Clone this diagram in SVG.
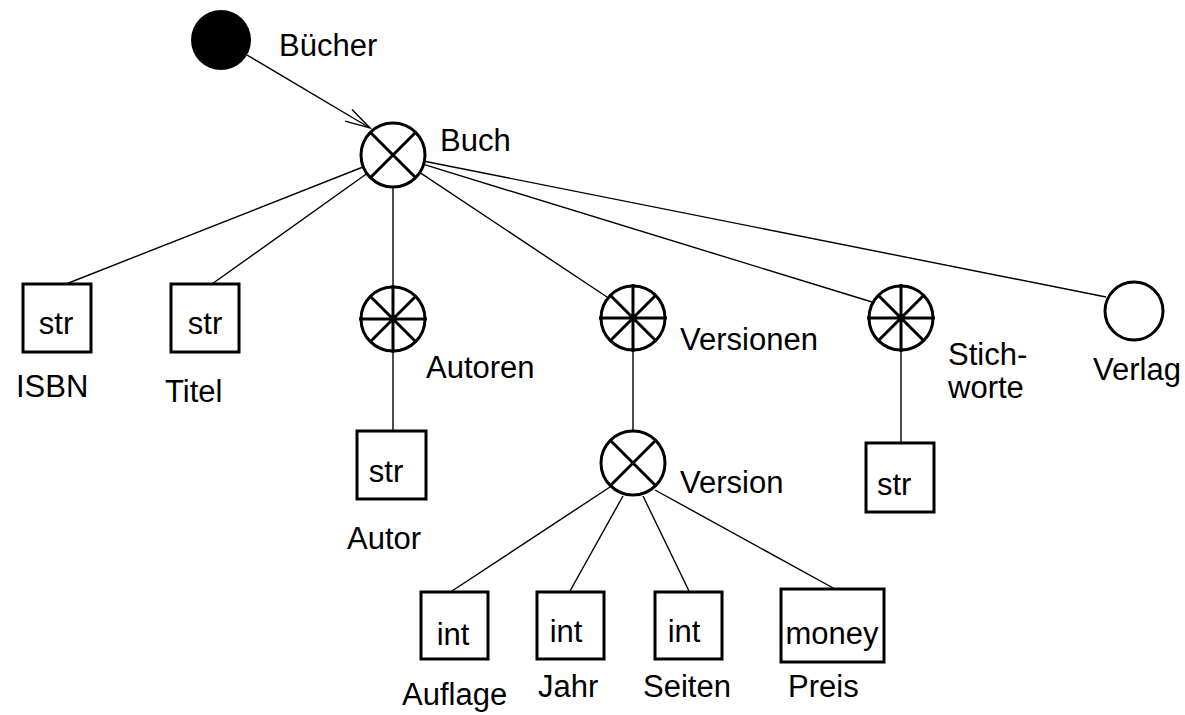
<svg xmlns="http://www.w3.org/2000/svg" width="1185" height="715" viewBox="0 0 1185 715">
<style>
text{font-family:"Liberation Sans",Arial,sans-serif;font-size:31px;fill:#000}
.c{text-anchor:middle}
.node{fill:#fff;stroke:#000;stroke-width:3}
.sp{stroke:#000;stroke-width:3;fill:none}
.con{stroke:#000;stroke-width:1.4;fill:none}
</style>
<defs>
<marker id="arr" markerUnits="userSpaceOnUse" markerWidth="30" markerHeight="20" viewBox="-27 -10 30 20" refX="0" refY="0" orient="auto">
<path d="M-25,-6.8 L0,0 L-25,6.8" fill="none" stroke="#000" stroke-width="1.4"/>
</marker>
</defs>
<rect width="1185" height="715" fill="#fff"/>
<g id="connectors">
<line class="con" x1="247" y1="55" x2="370" y2="128" marker-end="url(#arr)"/>
<line class="con" x1="363" y1="167" x2="66" y2="284"/>
<line class="con" x1="367" y1="173.5" x2="212" y2="284"/>
<line class="con" x1="393" y1="187" x2="393" y2="286"/>
<line class="con" x1="393" y1="351" x2="393" y2="431"/>
<line class="con" x1="420" y1="172.7" x2="607" y2="297"/>
<line class="con" x1="423.6" y1="164.4" x2="872" y2="302"/>
<line class="con" x1="424.4" y1="161.2" x2="1106" y2="297"/>
<line class="con" x1="633" y1="350" x2="633" y2="431"/>
<line class="con" x1="901" y1="350" x2="901" y2="443"/>
<line class="con" x1="610" y1="487" x2="452" y2="591"/>
<line class="con" x1="623" y1="496" x2="570" y2="591"/>
<line class="con" x1="643" y1="496" x2="689" y2="591"/>
<line class="con" x1="655" y1="490" x2="835" y2="589"/>
</g>
<g id="buecher">
<circle cx="221" cy="40" r="30" fill="#000"/>
<text x="279" y="56">Bücher</text>
</g>
<g id="buch">
<circle class="node" cx="393" cy="155" r="32"/>
<path class="sp" d="M370,132 L416,178 M416,132 L370,178"/>
<text x="440" y="151">Buch</text>
</g>
<g id="isbn">
<rect class="node" x="23" y="284" width="68" height="68"/>
<text class="c" x="56" y="334">str</text>
<text x="16" y="397">ISBN</text>
</g>
<g id="titel">
<rect class="node" x="171" y="284" width="68" height="68"/>
<text class="c" x="205" y="334">str</text>
<text x="165" y="402">Titel</text>
</g>
<g id="autoren">
<circle class="node" cx="393" cy="319" r="32"/>
<path class="sp" d="M359,319 L427,319 M393,285 L393,353 M370,296 L416,342 M416,296 L370,342"/>
<text x="426" y="378">Autoren</text>
</g>
<g id="autor">
<rect class="node" x="357" y="431" width="69" height="68"/>
<text class="c" x="386" y="482">str</text>
<text x="347" y="549">Autor</text>
</g>
<g id="versionen">
<circle class="node" cx="633" cy="318" r="32"/>
<path class="sp" d="M599,318 L667,318 M633,284 L633,352 M610,295 L656,341 M656,295 L610,341"/>
<text x="680" y="350">Versionen</text>
</g>
<g id="version">
<circle class="node" cx="633" cy="463" r="32"/>
<path class="sp" d="M610,440 L656,486 M656,440 L610,486"/>
<text x="680" y="493">Version</text>
</g>
<g id="auflage">
<rect class="node" x="421" y="592" width="67" height="67"/>
<text class="c" x="453" y="645">int</text>
<text x="402" y="705">Auflage</text>
</g>
<g id="jahr">
<rect class="node" x="537" y="592" width="67" height="67"/>
<text class="c" x="566" y="642">int</text>
<text x="538" y="697">Jahr</text>
</g>
<g id="seiten">
<rect class="node" x="655" y="592" width="67" height="67"/>
<text class="c" x="684" y="642">int</text>
<text x="643" y="697">Seiten</text>
</g>
<g id="preis">
<rect class="node" x="781" y="589" width="103" height="73"/>
<text class="c" x="832" y="644">money</text>
<text x="788" y="697">Preis</text>
</g>
<g id="stichworte">
<circle class="node" cx="901" cy="318" r="32"/>
<path class="sp" d="M867,318 L935,318 M901,284 L901,352 M878,295 L924,341 M924,295 L878,341"/>
<text x="948" y="365">Stich-</text>
<text x="948" y="398">worte</text>
</g>
<g id="stichwort">
<rect class="node" x="866" y="443" width="68" height="69"/>
<text x="877" y="495">str</text>
</g>
<g id="verlag">
<circle class="node" cx="1134" cy="311" r="29"/>
<text x="1093" y="380">Verlag</text>
</g>
</svg>
